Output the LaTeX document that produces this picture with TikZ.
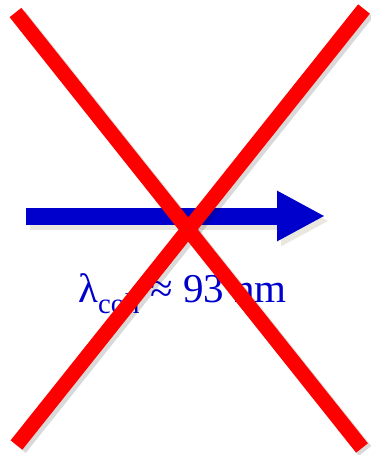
\documentclass[tikz,border=0pt]{standalone}
\usepackage{fontspec}
\setmainfont{Liberation Serif}
\usetikzlibrary{arrows.meta}
\definecolor{beamblue}{RGB}{0,0,204}
\definecolor{crossred}{RGB}{255,0,0}
\definecolor{shadebeige}{RGB}{234,232,222}

\begin{document}
\begin{tikzpicture}[x=1pt,y=-1pt,
  beam/.style={line width=17pt,-{Triangle[length=48pt,width=47pt]}},
  cross/.style={line width=15pt,crossred},
  shade/.style={line width=16pt,black,opacity=0.15}]
  \useasboundingbox (0,0) rectangle (370,455);
  % arrow and label
  \coordinate (beamstart) at (26,216);
  \coordinate (beamend) at (325,216);
  \draw[beam,shadebeige] ([shift={(4,5)}]beamstart) -- ([shift={(4,5)}]beamend);
  \draw[beam,beamblue] (beamstart) -- (beamend);
  \node[anchor=base,text=beamblue,inner sep=0pt,font=\fontsize{41}{44}\selectfont] (coh)
    at (182.5,302) {λ\textsubscript{coh} ≈ 93 nm};
  % the cross
  \coordinate (ctl) at (15.5,12.5);
  \coordinate (cbr) at (362,448);
  \coordinate (ctr) at (364,9);
  \coordinate (cbl) at (16.5,445);
  \draw[shade] ([shift={(3,3)}]ctl) -- ([shift={(3,3)}]cbr);
  \draw[shade] ([shift={(3,3)}]ctr) -- ([shift={(3,3)}]cbl);
  \draw[cross] (ctl) -- (cbr);
  \draw[cross] (ctr) -- (cbl);
\end{tikzpicture}
\end{document}
